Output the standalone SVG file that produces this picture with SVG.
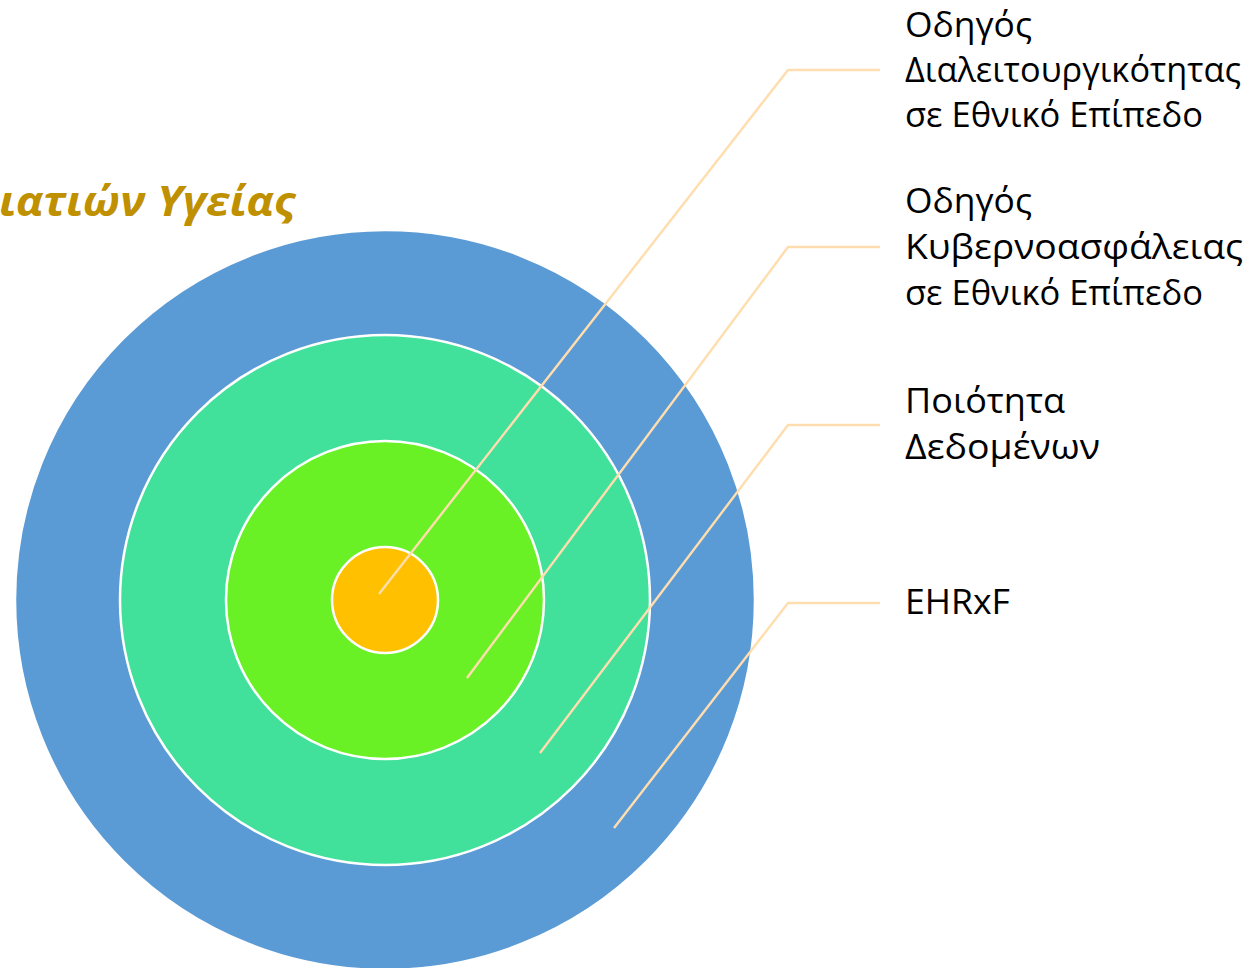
<svg xmlns="http://www.w3.org/2000/svg" width="1251" height="968" viewBox="0 0 1251 968">
<style>
.ring{stroke:#FFFFFF;stroke-width:2.5}
.lead{fill:none;stroke:#FFDDAE;stroke-width:2.4}
.lbl{font-family:"Open Sans","Noto Sans","DejaVu Sans",sans-serif;font-size:35px;fill:#000000}
.title{font-family:"Open Sans","Noto Sans","DejaVu Sans",sans-serif;font-size:42px;font-weight:bold;font-style:italic;fill:#BF9000}
</style>
<rect width="1251" height="968" fill="#FFFFFF"/>
<g id="title"><text class="title" x="-1" y="216" textLength="296" lengthAdjust="spacingAndGlyphs">ιατιών Υγείας</text></g>
<g id="ring-ehrxf"><circle class="ring" cx="385" cy="600" r="370" fill="#5B9BD5"/></g>
<g id="ring-quality"><circle class="ring" cx="385" cy="600" r="265" fill="#41E19C"/></g>
<g id="ring-cyber"><circle class="ring" cx="385" cy="600" r="159" fill="#6AF126"/></g>
<g id="ring-interop"><circle class="ring" cx="385" cy="600" r="53" fill="#FFC000"/></g>
<g id="connectors">
<polyline class="lead" points="880,70 788,70 379,594"/>
<polyline class="lead" points="880,247 788,247 467,678"/>
<polyline class="lead" points="880,425 788,425 540,753"/>
<polyline class="lead" points="880,603 788,603 614,828"/>
</g>
<g id="label-interop">
<text class="lbl" x="905" y="37" textLength="127" lengthAdjust="spacingAndGlyphs">Οδηγός</text>
<text class="lbl" x="905" y="82" textLength="336" lengthAdjust="spacingAndGlyphs">Διαλειτουργικότητας</text>
<text class="lbl" x="905" y="127" textLength="298" lengthAdjust="spacingAndGlyphs">σε Εθνικό Επίπεδο</text>
</g>
<g id="label-cyber">
<text class="lbl" x="905" y="213" textLength="127" lengthAdjust="spacingAndGlyphs">Οδηγός</text>
<text class="lbl" x="905" y="259" textLength="338" lengthAdjust="spacingAndGlyphs">Κυβερνοασφάλειας</text>
<text class="lbl" x="905" y="305" textLength="298" lengthAdjust="spacingAndGlyphs">σε Εθνικό Επίπεδο</text>
</g>
<g id="label-quality">
<text class="lbl" x="905" y="413" textLength="160" lengthAdjust="spacingAndGlyphs">Ποιότητα</text>
<text class="lbl" x="905" y="459" textLength="195" lengthAdjust="spacingAndGlyphs">Δεδομένων</text>
</g>
<g id="label-ehrxf">
<text class="lbl" x="905" y="614" textLength="105" lengthAdjust="spacingAndGlyphs">EHRxF</text>
</g>
</svg>
